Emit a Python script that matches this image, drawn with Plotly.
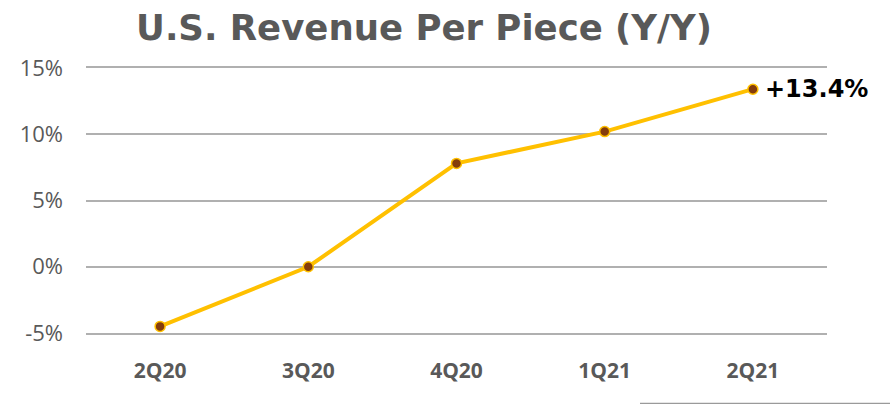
import plotly.graph_objects as go

quarters = ["2Q20", "3Q20", "4Q20", "1Q21", "2Q21"]
yoy_pct = [-4.5, 0.0, 7.8, 10.2, 13.4]
y_ticks = [-5, 0, 5, 10, 15]
y_tick_labels = ["-5%", "0%", "5%", "10%", "15%"]
last_label = "+13.4%"

fig = go.Figure()
fig.add_trace(go.Scatter(
    x=quarters, y=yoy_pct, mode="lines+markers",
    line=dict(color="#FFC000", width=4),
    marker=dict(size=10, color="#843C0C", line=dict(color="#FFC000", width=1.5)),
    hoverinfo="skip", showlegend=False,
))
fig.add_annotation(x=quarters[-1], y=yoy_pct[-1], text="<b>" + last_label + "</b>",
                   showarrow=False, xanchor="left", xshift=10,
                   font=dict(family="DejaVu Sans", size=24, color="#000000"))

fig.update_layout(
    width=893, height=404,
    margin=dict(l=86, r=66, t=68, b=71),
    paper_bgcolor="white", plot_bgcolor="white",
    title=dict(text="<b>U.S. Revenue Per Piece (Y/Y)</b>", x=424/893, xanchor="center",
               xref="container", y=1 - 28/404, yanchor="middle", yref="container",
               font=dict(family="DejaVu Sans", size=35.5, color="#595959")),
    xaxis=dict(range=[-0.5, 4.5], showgrid=False, zeroline=False, ticks="",
               showline=True, mirror=True, linecolor="#B0B0B0", linewidth=1.5,
               tickfont=dict(family="Open Sans", size=21, color="#595959", weight="bold"),
               ticklabelstandoff=18),
    yaxis=dict(range=[-5, 15], tickvals=y_ticks, ticktext=y_tick_labels,
               showgrid=True, gridcolor="#B0B0B0", gridwidth=1.5, zeroline=False,
               showline=False,
               tickfont=dict(family="Open Sans", size=22, color="#595959"),
               ticklabelstandoff=22),
)
fig.add_shape(type="line", xref="paper", yref="paper", x0=(640-86)/741, x1=(890-86)/741,
              y0=-70.5/265, y1=-70.5/265, line=dict(color="#9A9A9A", width=1.5))

fig.write_html("out.html", config={"displayModeBar": False},
               post_script="document.body.style.margin='0';")
